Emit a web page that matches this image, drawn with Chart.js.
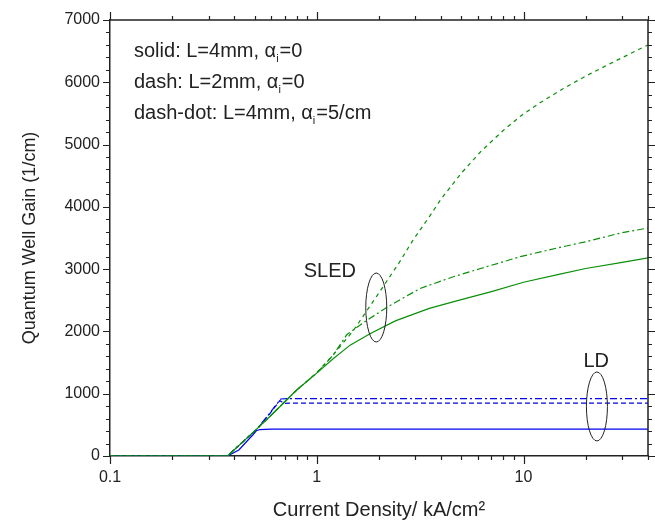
<!DOCTYPE html>
<html>
<head>
<meta charset="utf-8">
<script src="https://cdn.jsdelivr.net/npm/chart.js@4.4.1/dist/chart.umd.min.js"></script>
<style>
    html, body { margin: 0; padding: 0; background: #fff; }
</style>
</head>
<body>
<canvas id="chart" width="655" height="523"></canvas>
<script>
// current density in kA/cm^2, gain in 1/cm
const sledSolidX = [0.1, 0.37, 0.5, 0.6, 0.8, 1.0, 1.2, 1.45, 1.8, 2.4, 3.5, 5, 7, 10, 15, 20, 30, 40];
const sledSolidY = [0, 0, 400, 650, 1060, 1330, 1560, 1780, 1960, 2170, 2370, 2510, 2640, 2790, 2920, 3010, 3110, 3180];

const sledDashX = [0.1, 0.37, 0.5, 0.6, 0.8, 1.0, 1.2, 1.5, 2.0, 2.5, 2.9, 3.5, 4.0, 5.0, 6.2, 8, 9.7, 12, 15.6, 20, 27, 40];
const sledDashY = [0, 0, 400, 650, 1060, 1340, 1620, 2010, 2620, 3100, 3450, 3840, 4130, 4540, 4885, 5230, 5460, 5670, 5900, 6100, 6320, 6600];

const sledDashDotX = [0.1, 0.37, 0.5, 0.6, 0.8, 1.0, 1.2, 1.4, 1.75, 2.19, 3.16, 4.5, 6.2, 9.65, 15, 20, 29.5, 40];
const sledDashDotY = [0, 0, 400, 650, 1060, 1330, 1620, 1950, 2180, 2390, 2690, 2870, 3010, 3200, 3350, 3440, 3580, 3660];

const ldSolidX = [0.1, 0.37, 0.42, 0.49, 0.51, 0.53, 0.6, 1, 40];
const ldSolidY = [0, 0, 96, 337, 405, 425, 432, 433, 430];

const ldDashX = [0.1, 0.37, 0.45, 0.51, 0.58, 0.663, 0.695, 0.75, 40];
const ldDashY = [0, 0, 260, 420, 640, 890, 845, 848, 850];

const ldDashDotX = [0.1, 0.37, 0.45, 0.51, 0.58, 0.67, 0.72, 40];
const ldDashDotY = [0, 0, 260, 420, 650, 915, 922, 920];

const xTickLabels = [0.1, 1, 10];
const yTickLabels = [0, 1000, 2000, 3000, 4000, 5000, 6000, 7000];

const notes = [
    { head: "solid: L=4mm, ", tail: "=0" },
    { head: "dash: L=2mm, ", tail: "=0" },
    { head: "dash-dot: L=4mm, ", tail: "=5/cm" },
];

const GREEN = "#0a8f0a";
const BLUE = "#0000f0";
const FONT = "'Liberation Sans', Arial, sans-serif";

function toPoints(xs, ys) {
    return xs.map((x, i) => ({ x: x, y: ys[i] }));
}

function series(xs, ys, color, dash) {
    return {
        data: toPoints(xs, ys),
        borderColor: color,
        borderWidth: 1.2,
        borderDash: dash,
        pointRadius: 0,
        tension: 0,
        fill: false,
    };
}

const frameAndNotes = {
    id: "frameAndNotes",
    afterDraw(chart) {
        const ctx = chart.ctx;
        const a = chart.chartArea;
        const x = chart.scales.x;
        const y = chart.scales.y;

        ctx.save();
        ctx.strokeStyle = "#222";
        ctx.lineWidth = 1.5;
        ctx.beginPath();
        ctx.moveTo(a.left, a.top);
        ctx.lineTo(a.right, a.top);
        ctx.lineTo(a.right, a.bottom);
        ctx.stroke();

        // tick marks, outward on all four sides
        ctx.lineWidth = 1.2;
        ctx.beginPath();
        xTickLabels.forEach((decade) => {
            for (let m = 1; m <= 9; m++) {
                const v = decade * m;
                if (v > 40.001) break;
                const px = Math.round(x.getPixelForValue(v)) + 0.5;
                const len = m === 1 ? 8 : 4;
                ctx.moveTo(px, a.bottom);
                ctx.lineTo(px, a.bottom + len);
                ctx.moveTo(px, a.top);
                ctx.lineTo(px, a.top - len);
            }
        });
        for (let v = 0; v <= 7000; v += 200) {
            const py = Math.round(y.getPixelForValue(v)) + 0.5;
            const len = v % 1000 === 0 ? 7 : 4;
            ctx.moveTo(a.left - len, py);
            ctx.lineTo(a.left, py);
            ctx.moveTo(a.right, py);
            ctx.lineTo(a.right + len, py);
        }
        ctx.stroke();

        // legend notes with alpha subscript i
        ctx.fillStyle = "#222";
        ctx.textBaseline = "alphabetic";
        notes.forEach((note, i) => {
            const bx = a.left + 24;
            const by = a.top + 37 + i * 31;
            ctx.font = "20px " + FONT;
            ctx.fillText(note.head, bx, by);
            let cx = bx + ctx.measureText(note.head).width;
            ctx.fillText("\u03b1", cx, by);
            cx += ctx.measureText("\u03b1").width;
            ctx.font = "11px " + FONT;
            ctx.fillText("i", cx, by + 5);
            cx += ctx.measureText("i").width + 1;
            ctx.font = "20px " + FONT;
            ctx.fillText(note.tail, cx, by);
        });

        // group labels and ellipses
        ctx.font = "20px " + FONT;
        ctx.fillText("SLED", x.getPixelForValue(0.865), y.getPixelForValue(2873));
        ctx.fillText("LD", x.getPixelForValue(19.5), y.getPixelForValue(1429));

        ctx.lineWidth = 1;
        ctx.beginPath();
        ctx.ellipse(x.getPixelForValue(1.94), y.getPixelForValue(2384), 10.5, 34.5, 0, 0, Math.PI * 2);
        ctx.stroke();
        ctx.beginPath();
        ctx.ellipse(x.getPixelForValue(22.65), y.getPixelForValue(795), 10.5, 34.5, 0, 0, Math.PI * 2);
        ctx.stroke();
        ctx.restore();
    },
};

const chart = new Chart(document.getElementById("chart"), {
    type: "line",
    data: {
        datasets: [
            series(sledSolidX, sledSolidY, GREEN, []),
            series(sledDashX, sledDashY, GREEN, [4, 4]),
            series(sledDashDotX, sledDashDotY, GREEN, [7, 3, 2, 3]),
            series(ldSolidX, ldSolidY, BLUE, []),
            series(ldDashX, ldDashY, BLUE, [5, 3]),
            series(ldDashDotX, ldDashDotY, BLUE, [7, 3, 2, 3]),
        ],
    },
    options: {
        responsive: false,
        animation: false,
        layout: { padding: { top: 20, right: 7, left: 0, bottom: 0 } },
        plugins: {
            legend: { display: false },
            tooltip: { enabled: false },
        },
        scales: {
            x: {
                type: "logarithmic",
                min: 0.1,
                max: 40,
                afterBuildTicks: (scale) => {
                    scale.ticks = xTickLabels.map((v) => ({ value: v }));
                },
                afterFit: (scale) => {
                    scale.height = 67;
                },
                ticks: {
                    autoSkip: false,
                    maxRotation: 0,
                    padding: 12,
                    color: "#222",
                    font: { family: FONT, size: 16 },
                    callback: (value) => String(value),
                },
                grid: { display: false, drawTicks: false },
                border: { display: true, color: "#222", width: 1.5 },
                title: {
                    display: true,
                    text: "Current Density/ kA/cm\u00b2",
                    color: "#222",
                    font: { family: FONT, size: 20 },
                    padding: { top: 0, bottom: 1 },
                },
            },
            y: {
                type: "linear",
                min: 0,
                max: 7000,
                afterBuildTicks: (scale) => {
                    scale.ticks = yTickLabels.map((v) => ({ value: v }));
                },
                afterFit: (scale) => {
                    scale.width = 110;
                },
                ticks: {
                    padding: 10,
                    color: "#222",
                    font: { family: FONT, size: 16 },
                    callback: (value) => String(value),
                },
                grid: { display: false, drawTicks: false },
                border: { display: true, color: "#222", width: 1.5 },
                title: {
                    display: true,
                    text: "Quantum Well Gain (1/cm)",
                    color: "#222",
                    font: { family: FONT, size: 18 },
                    padding: { top: 19, bottom: 0 },
                },
            },
        },
    },
    plugins: [frameAndNotes],
});
</script>
</body>
</html>
